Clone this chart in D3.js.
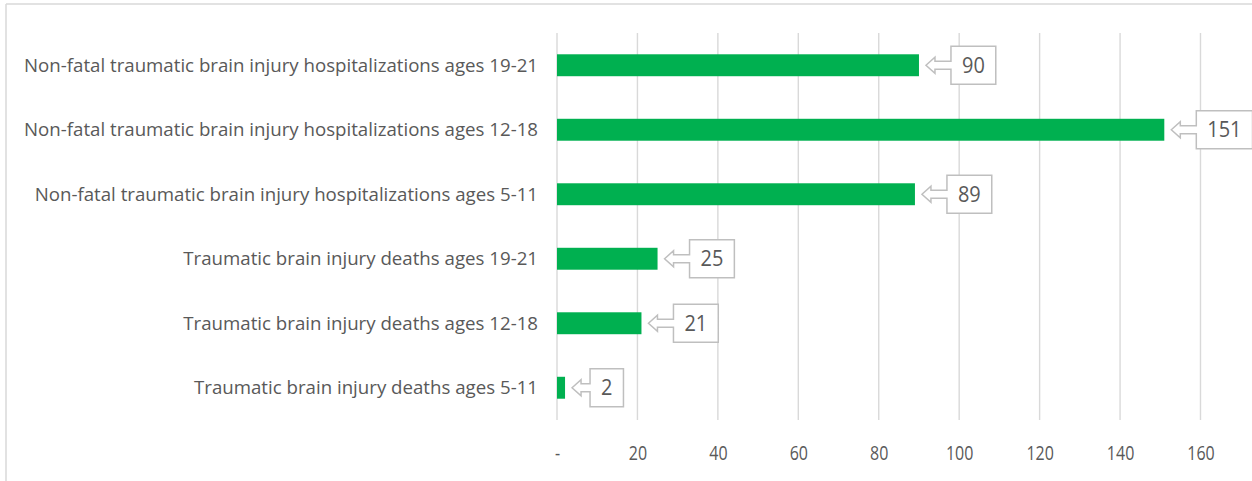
<!DOCTYPE html>
<html>
<head>
<meta charset="utf-8">
<script src="https://cdn.jsdelivr.net/npm/d3@7"></script>
<style>
  html, body { margin: 0; padding: 0; background: #fff; }
  svg { display: block; font-family: "Open Sans", "Noto Sans", sans-serif; }
  .tick-label { font-family: "Open Sans", "Noto Sans", sans-serif; font-size: 20px; }
</style>
</head>
<body>
<svg id="chart" width="1252" height="481"></svg>
<script>
// Categories, top to bottom
const categories = [
  "Non-fatal traumatic brain injury hospitalizations ages 19-21",
  "Non-fatal traumatic brain injury hospitalizations ages 12-18",
  "Non-fatal traumatic brain injury hospitalizations ages 5-11",
  "Traumatic brain injury deaths ages 19-21",
  "Traumatic brain injury deaths ages 12-18",
  "Traumatic brain injury deaths ages 5-11"
];
const values = [90, 151, 89, 25, 21, 2];
const tickValues = [0, 20, 40, 60, 80, 100, 120, 140, 160];
const tickLabels = ["-", "20", "40", "60", "80", "100", "120", "140", "160"];

const svg = d3.select("#chart");
const W = 1252, H = 481;
const textColor = "#595959";
const gridColor = "#d9d9d9";
const barColor = "#00b050";

// Frame (chart area border, left and top edges)
svg.append("line").attr("x1", 6).attr("x2", 6).attr("y1", 4).attr("y2", H)
  .attr("stroke", gridColor).attr("stroke-width", 1.5);
svg.append("line").attr("x1", 6).attr("x2", W).attr("y1", 4).attr("y2", 4)
  .attr("stroke", gridColor).attr("stroke-width", 1.5);

const plotTop = 33, plotBottom = 420;
const x = d3.scaleLinear().domain([0, 160]).range([557, 1200.5]);
const y = d3.scaleBand().domain(categories).range([plotTop, plotBottom]).paddingInner(0.66).paddingOuter(0.33);

// Vertical gridlines
svg.append("g").selectAll("line").data(tickValues).join("line")
  .attr("x1", d => x(d)).attr("x2", d => x(d))
  .attr("y1", plotTop).attr("y2", plotBottom)
  .attr("stroke", gridColor).attr("stroke-width", 1.4);

// X axis tick labels
const xAxis = d3.axisBottom(x).tickValues(tickValues)
  .tickFormat((d, i) => tickLabels[i]).tickSize(0).tickPadding(0);
const gx = svg.append("g").attr("transform", `translate(0, ${plotBottom})`).call(xAxis);
gx.attr("font-size", null).attr("font-family", null);
gx.select(".domain").remove();
gx.selectAll("text")
  .attr("class", "tick-label")
  .attr("y", 39.5).attr("dy", 0)
  .attr("fill", textColor)
  .each(function () {
    const n = this.getComputedTextLength();
    d3.select(this).attr("textLength", n * 0.8).attr("lengthAdjust", "spacingAndGlyphs");
  });

// Category labels (narrowed to a condensed look)
const catLabels = svg.append("g").selectAll("text").data(categories).join("text")
  .attr("x", 538)
  .attr("y", d => y(d) + y.bandwidth() / 2)
  .attr("dy", "0.35em")
  .attr("text-anchor", "end")
  .attr("fill", textColor)
  .style("font-size", "18px")
  .text(d => d);
let widest = 0;
catLabels.each(function () { widest = Math.max(widest, this.getComputedTextLength()); });
const squeeze = 514 / widest;
catLabels.each(function () {
  const n = this.getComputedTextLength();
  d3.select(this).attr("textLength", n * squeeze).attr("lengthAdjust", "spacingAndGlyphs");
});

// Bars
svg.append("g").selectAll("rect").data(values).join("rect")
  .attr("x", x(0))
  .attr("y", (d, i) => y(categories[i]))
  .attr("width", d => x(d) - x(0))
  .attr("height", y.bandwidth())
  .attr("fill", barColor);

// Callout value labels: box with a hollow arrow pointing at the bar end
const callouts = svg.append("g");
values.forEach((v, i) => {
  const cy = y(categories[i]) + y.bandwidth() / 2;
  const tip = x(v) + 7;
  const headLen = 9, headHalf = 8, shaftHalf = 4;
  const bx = tip + (v < 10 ? 18 : 25);
  const g = callouts.append("g");
  const t = g.append("text")
    .attr("y", cy).attr("dy", "0.36em")
    .attr("text-anchor", "middle")
    .attr("fill", textColor)
    .style("font-size", "21px")
    .text(v);
  const tw = t.node().getComputedTextLength() * 0.95;
  t.attr("textLength", tw).attr("lengthAdjust", "spacingAndGlyphs");
  const bw = tw + 22;
  const top = cy - 19, bot = cy + 19;
  const p = d3.path();
  p.moveTo(tip, cy);
  p.lineTo(tip + headLen, cy - headHalf);
  p.lineTo(tip + headLen, cy - shaftHalf);
  p.lineTo(bx, cy - shaftHalf);
  p.lineTo(bx, top);
  p.lineTo(bx + bw, top);
  p.lineTo(bx + bw, bot);
  p.lineTo(bx, bot);
  p.lineTo(bx, cy + shaftHalf);
  p.lineTo(tip + headLen, cy + shaftHalf);
  p.lineTo(tip + headLen, cy + headHalf);
  p.closePath();
  g.insert("path", "text").attr("d", p.toString())
    .attr("fill", "#fff").attr("stroke", "#bfbfbf").attr("stroke-width", 1.5);
  t.attr("x", bx + bw / 2);
});
</script>
</body>
</html>
